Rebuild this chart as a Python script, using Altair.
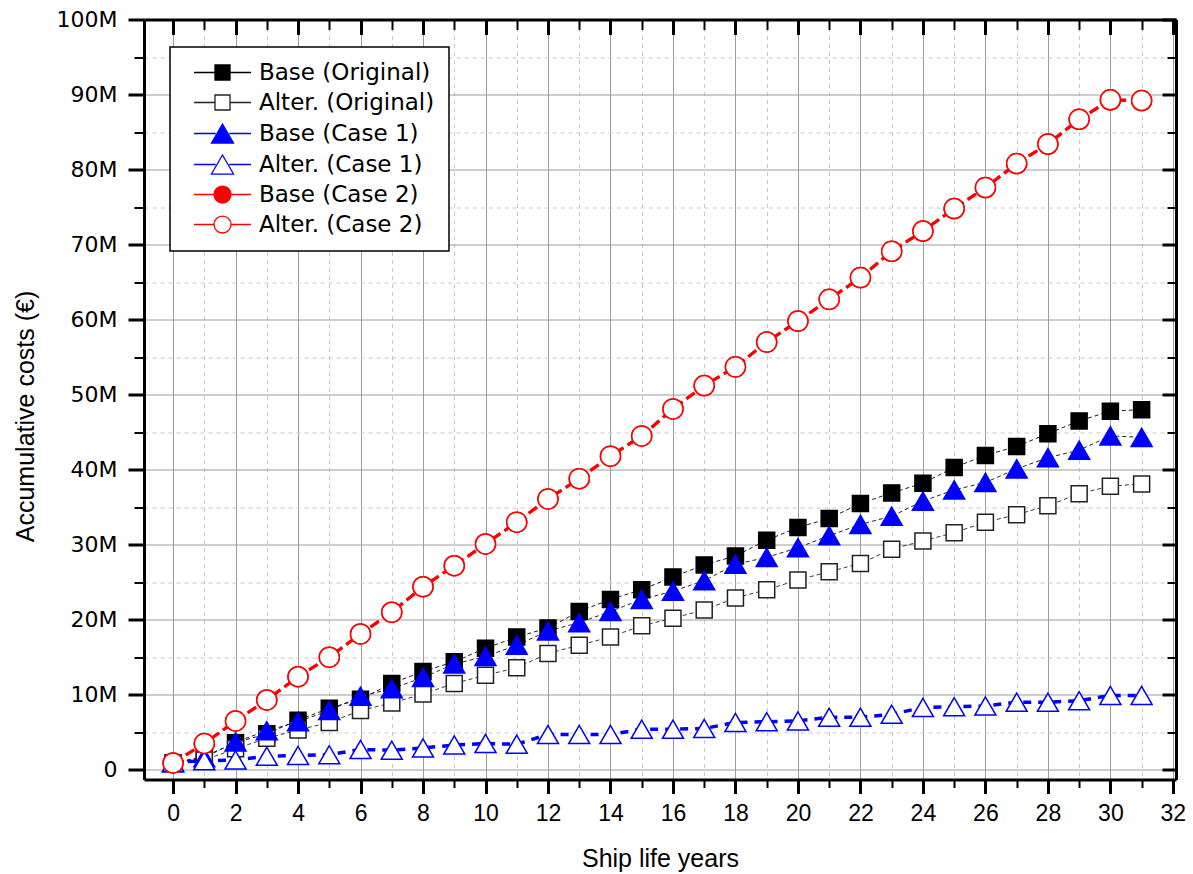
import altair as alt
import pandas as pd

# ---------------- data (values in millions of EUR) ----------------
years = list(range(32))
series_names = ['Base (Original)', 'Alter. (Original)', 'Base (Case 1)',
                'Alter. (Case 1)', 'Base (Case 2)', 'Alter. (Case 2)']

base_original = [0.9, 1.8, 3.6, 4.8, 6.6, 8.2, 9.4, 11.5, 13.1, 14.4, 16.2, 17.7,
                 18.9, 21.1, 22.7, 24.0, 25.7, 27.3, 28.5, 30.6, 32.3, 33.5, 35.5,
                 36.9, 38.2, 40.3, 41.9, 43.1, 44.8, 46.5, 47.8, 48.0]
alter_original = [0.9, 1.3, 2.8, 4.2, 5.3, 6.3, 7.9, 8.9, 10.1, 11.5, 12.6, 13.6,
                  15.5, 16.6, 17.7, 19.2, 20.2, 21.3, 22.9, 24.0, 25.3, 26.4, 27.5,
                  29.4, 30.5, 31.6, 33.0, 34.0, 35.2, 36.8, 37.8, 38.1]
base_case1 = [0.9, 1.6, 3.7, 5.2, 6.4, 7.9, 9.8, 10.8, 12.3, 14.1, 15.1, 16.6,
              18.5, 19.6, 21.1, 22.7, 23.8, 25.2, 27.4, 28.3, 29.6, 31.2, 32.7,
              33.8, 35.8, 37.3, 38.3, 40.1, 41.6, 42.6, 44.5, 44.3]
alter_case1 = [1.0, 1.2, 1.3, 1.8, 1.9, 2.0, 2.7, 2.6, 2.9, 3.3, 3.5, 3.4,
               4.7, 4.7, 4.7, 5.4, 5.4, 5.5, 6.3, 6.4, 6.5, 7.0, 7.0,
               7.4, 8.3, 8.4, 8.5, 9.0, 9.0, 9.2, 9.9, 9.9]
base_case2 = [0.9, 3.5, 6.5, 9.3, 12.4, 15.0, 18.1, 21.0, 24.4, 27.2, 30.1, 33.0,
              36.1, 38.8, 41.8, 44.5, 48.1, 51.2, 53.7, 57.0, 59.8, 62.7, 65.6,
              69.1, 71.8, 74.8, 77.6, 80.8, 83.4, 86.7, 89.3, 89.2]
alter_case2 = [0.9, 3.5, 6.5, 9.3, 12.4, 15.0, 18.1, 21.0, 24.4, 27.2, 30.1, 33.0,
               36.1, 38.8, 41.8, 44.5, 48.1, 51.2, 53.7, 57.0, 59.8, 62.7, 65.6,
               69.1, 71.8, 74.8, 77.6, 80.8, 83.4, 86.7, 89.3, 89.2]

x_ticks_major = [0, 2, 4, 6, 8, 10, 12, 14, 16, 18, 20, 22, 24, 26, 28, 30, 32]
x_ticks_minor = [1, 3, 5, 7, 9, 11, 13, 15, 17, 19, 21, 23, 25, 27, 29, 31]
y_ticks_major = [0, 10, 20, 30, 40, 50, 60, 70, 80, 90, 100]
y_ticks_minor = [5, 15, 25, 35, 45, 55, 65, 75, 85, 95]

all_values = [base_original, alter_original, base_case1, alter_case1, base_case2, alter_case2]
df = pd.DataFrame({
    'year': years * len(series_names),
    'cost': [v for vals in all_values for v in vals],
    'series': [name for name in series_names for _ in years],
})

# ---------------- styles ----------------
shape_range = ['square', 'square', 'triangle-up', 'triangle-up', 'circle', 'circle']
fill_range = ['#000000', '#ffffff', '#0000ff', '#ffffff', '#ff0000', '#ffffff']
stroke_range = ['#000000', '#222222', '#0000ff', '#0000ff', '#ff0000', '#ff0000']
marker_size = [256, 256, 441, 441, 400, 400]
line_color = ['#1a1a1a', '#3a3a3a', '#262626', '#0000ff', '#ff0000', '#ff0000']
line_width = [1.0, 1.0, 1.0, 3.5, 3.0, 3.0]
line_dash = [[4, 3], [4, 3], [4, 3], [8, 7], [10, 5], [10, 5]]

# legend symbols: short line + marker (custom paths in unit box)
SQ = 'M-3.8,0H-1M1,0H3.8M-1,-1H1V1H-1Z'
TRI = 'M-3.8,0H-0.9M0.9,0H3.8M0,-1.27L1.47,1.27L-1.47,1.27Z'
CIR = 'M-3.8,0H-1.13M1.13,0H3.8M-1.13,0A1.13,1.13,0,1,0,1.13,0A1.13,1.13,0,1,0,-1.13,0Z'
legend_shapes = [SQ, SQ, TRI, TRI, CIR, CIR]

xs = alt.Scale(domain=[-0.93, 32.1], nice=False, zero=False)
ys = alt.Scale(domain=[-1.3, 100], nice=False, zero=False)

FONT_SANS = 'Liberation Sans, Arial, sans-serif'
FONT_DV = 'DejaVu Sans, Verdana, sans-serif'
MAJOR_GRID = '#9c9c9c'
MINOR_GRID = '#c8c8c8'

x_bottom_major = alt.Axis(orient='bottom', values=x_ticks_major, grid=True, gridColor=MAJOR_GRID,
                          gridWidth=1, domain=True, domainColor='black', domainWidth=3,
                          ticks=True, tickColor='black', tickWidth=3, tickSize=14,
                          labels=True, labelFont=FONT_SANS, labelFontSize=23, labelColor='black',
                          labelPadding=9, labelFlush=False, labelOverlap=False, format='d',
                          title='Ship life years', titleFont=FONT_SANS, titleFontSize=25,
                          titleFontWeight='normal', titleColor='black', titleY=86.5,
                          titleBaseline='alphabetic')
x_bottom_minor = alt.Axis(orient='bottom', values=x_ticks_minor, grid=True, gridColor=MINOR_GRID,
                          gridWidth=1, gridDash=[4, 4], domain=False, ticks=True, tickColor='black',
                          tickWidth=2, tickSize=8, labels=False, title=None)
x_top_major = alt.Axis(orient='top', values=x_ticks_major, grid=False, domain=True,
                       domainColor='black', domainWidth=3, ticks=True, tickColor='black',
                       tickWidth=3, tickSize=alt.ExprRef('-15'), labels=False, title=None)
x_top_minor = alt.Axis(orient='top', values=x_ticks_minor, grid=False, domain=False,
                       ticks=True, tickColor='black', tickWidth=2, tickSize=alt.ExprRef('-10'),
                       labels=False, title=None)

y_left_major = alt.Axis(orient='left', values=y_ticks_major, grid=True, gridColor=MAJOR_GRID,
                        gridWidth=1, domain=True, domainColor='black', domainWidth=3,
                        ticks=True, tickColor='black', tickWidth=3, tickSize=16,
                        labels=True, labelFont=FONT_DV, labelFontSize=22, labelColor='black',
                        labelPadding=11, labelFlush=False, labelOverlap=False,
                        labelExpr="datum.value == 0 ? '0' : datum.value + 'M'",
                        title='Accumulative costs (€)', titleFont=FONT_SANS, titleFontSize=25,
                        titleFontWeight='normal', titleColor='black', titleAngle=270,
                        titleX=-111, titleY=396.5, titleAlign='center', titleBaseline='alphabetic')
y_left_minor = alt.Axis(orient='left', values=y_ticks_minor, grid=True, gridColor=MINOR_GRID,
                        gridWidth=1, gridDash=[4, 4], domain=False, ticks=True, tickColor='black',
                        tickWidth=2, tickSize=10, labels=False, title=None)
y_right_major = alt.Axis(orient='right', values=y_ticks_major, grid=False, domain=True,
                         domainColor='black', domainWidth=3, ticks=True, tickColor='black',
                         tickWidth=3, tickSize=alt.ExprRef('-14'), labels=False, title=None)
y_right_minor = alt.Axis(orient='right', values=y_ticks_minor, grid=False, domain=False,
                         ticks=True, tickColor='black', tickWidth=2, tickSize=alt.ExprRef('-9'),
                         labels=False, title=None)

axis_pairs = [(x_bottom_major, y_left_major), (x_bottom_minor, y_left_minor),
              (x_top_major, y_right_major), (x_top_minor, y_right_minor),
              (None, None), (None, None)]

base = alt.Chart(df)

line_layers = []
for i, name in enumerate(series_names):
    xa, ya = axis_pairs[i]
    line_layers.append(
        base.transform_filter(alt.datum.series == name)
        .mark_line(color=line_color[i], strokeWidth=line_width[i], strokeDash=line_dash[i])
        .encode(x=alt.X('year:Q', scale=xs, axis=xa),
                y=alt.Y('cost:Q', scale=ys, axis=ya))
    )

point_layers = []
for i, name in enumerate(series_names):
    point_layers.append(
        base.transform_filter(alt.datum.series == name)
        .mark_point(filled=True, opacity=1, shape=shape_range[i], fill=fill_range[i],
                    stroke=stroke_range[i], size=marker_size[i], strokeWidth=1.5)
        .encode(x=alt.X('year:Q', scale=xs, axis=None),
                y=alt.Y('cost:Q', scale=ys, axis=None))
    )

legend = alt.Legend(title=None, orient='none', legendX=26, legendY=27.5, padding=14,
                    rowPadding=6, symbolOffset=27, labelOffset=25, labelFont=FONT_DV,
                    labelFontSize=23, labelColor='black', labelLimit=400,
                    strokeColor='black', fillColor='white', cornerRadius=0,
                    symbolStrokeWidth=1.3, symbolSize=225, symbolOpacity=1)

legend_layer = (
    base.transform_filter(alt.datum.year == 0)
    .mark_point(filled=True, opacity=0, size=225)
    .encode(x=alt.X('year:Q', scale=xs, axis=None),
            y=alt.Y('cost:Q', scale=ys, axis=None),
            shape=alt.Shape('series:N', scale=alt.Scale(domain=series_names, range=legend_shapes),
                            legend=legend),
            fill=alt.Fill('series:N', scale=alt.Scale(domain=series_names, range=fill_range),
                          legend=legend),
            stroke=alt.Stroke('series:N', scale=alt.Scale(domain=series_names, range=stroke_range),
                              legend=legend))
)

chart = (
    alt.layer(*line_layers, *point_layers, legend_layer)
    .resolve_axis(x='independent', y='independent')
    .properties(width=1032, height=760, background='white',
                autosize=alt.AutoSizeParams(type='none'),
                padding={'left': 144, 'top': 19.5, 'right': 17, 'bottom': 94.5})
    .configure_view(strokeWidth=0)
    .configure_legend(strokeWidth=1.5)
)

chart.save('out.html', embed_options={'renderer': 'svg', 'actions': False})
